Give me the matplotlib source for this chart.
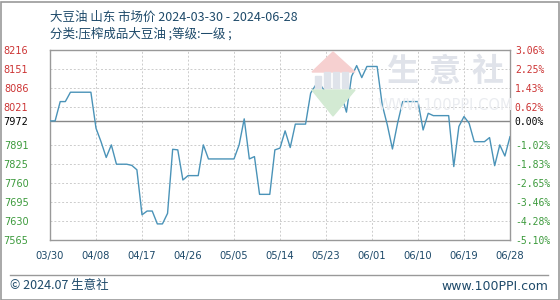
import matplotlib
matplotlib.use("Agg")
import matplotlib.pyplot as plt
from matplotlib.patches import Rectangle, Polygon
import pandas as pd

plt.rcParams['font.family'] = ['Noto Sans CJK SC', 'DejaVu Sans']

# data (one value per day, 03/30 .. 06/28)
dates = pd.date_range('2024-03-30', '2024-06-28', freq='D')
prices = [
    7972, 7972, 8038, 8038, 8070, 8070, 8070, 8070, 8070, 7947,
    7900, 7847, 7890, 7824, 7824, 7824, 7820, 7805, 7651, 7664,
    7664, 7620, 7620, 7656, 7875, 7873, 7770, 7785, 7785, 7785,
    7890, 7842, 7842, 7842, 7842, 7842, 7842, 7890, 7979, 7842,
    7850, 7721, 7721, 7721, 7873, 7879, 7938, 7881, 7961, 7961,
    7961, 8067, 8095, 8093, 8067, 8061, 8061, 8061, 8002, 8124,
    8161, 8120, 8158, 8158, 8158, 8027, 7958, 7876, 7964, 8038,
    8038, 8038, 8038, 7941, 7998, 7990, 7990, 7990, 7990, 7816,
    7953, 7987, 7964, 7901, 7901, 7901, 7915, 7819, 7890, 7852,
    7918,
]
base = 7972
yticks = [7565, 7630, 7695, 7760, 7825, 7891, 7972, 8021, 8086, 8151, 8216]
pct_labels = ['-5.10%', '-4.28%', '-3.46%', '-2.65%', '-1.83%', '-1.02%',
              '0.00%', '0.62%', '1.43%', '2.25%', '3.06%']
xtick_labels = ['03/30', '04/08', '04/17', '04/26', '05/05', '05/14',
                '05/23', '06/01', '06/10', '06/19', '06/28']

title1 = '大豆油 山东 市场价 2024-03-30 - 2024-06-28'
title2 = '分类:压榨成品大豆油 ;等级:一级 ;'

RED = '#cc3333'
GREEN = '#3c9a3c'
BLUE_TXT = '#1e4a6a'
LINE = '#4a93b8'


def tick_color(v):
    if v > base:
        return RED
    if v < base:
        return GREEN
    return 'black'


def fx(px):
    return px / 560


def fy(py):
    return 1 - py / 300


fig = plt.figure(figsize=(5.6, 3.0), dpi=100)
ax = fig.add_axes([fx(50), fy(240), 460 / 560, 190.5 / 300])

# watermark (logo + site name)
fig.patches.append(Polygon([[fx(312), fy(72)], [fx(333), fy(52)], [fx(355), fy(72)]],
                           closed=True, transform=fig.transFigure, color='#f6d0d0', zorder=0))
for bx, bh in [(315, 12), (324, 16), (333, 16), (342, 16)]:
    fig.patches.append(Rectangle((fx(bx), fy(88)), 6 / 560, bh / 300, transform=fig.transFigure,
                                 color='#dfe3ea', zorder=0))
fig.patches.append(Polygon([[fx(312), fy(90)], [fx(333), fy(116)], [fx(355), fy(90)]],
                           closed=True, transform=fig.transFigure, color='#d3ead3', zorder=0))
for cx, ch in zip([402, 445, 488], '生意社'):
    fig.text(fx(cx), fy(72), ch, fontsize=23, color='#e0e3ea', ha='center', va='center',
             fontweight='bold', zorder=0)
fig.text(fx(445), fy(106), 'WWW.100PPI.COM', fontsize=10.5, color='#eaecf0', ha='center',
         va='center', family='DejaVu Sans', zorder=0)
ax.set_facecolor('none')

ax.plot(dates, prices, color=LINE, lw=1.0, zorder=3)
ax.axhline(base, color='#888888', lw=1.0, zorder=2)

ax.set_ylim(yticks[0], yticks[-1])
ax.set_xlim(dates[0], dates[-1])
ax.set_yticks(yticks)
ax.set_yticklabels([str(v) for v in yticks], family='DejaVu Sans', fontsize=7)
for lab, v in zip(ax.get_yticklabels(), yticks):
    lab.set_color(tick_color(v))

ax.set_xticks(dates[::9])
ax.set_xticklabels(xtick_labels, family='DejaVu Sans', fontsize=7.2, color=BLUE_TXT)
ax.tick_params(axis='x', length=0, pad=8)
ax.tick_params(axis='y', length=0, pad=15.5)
ax.grid(True, color='#cccccc', ls=(0, (2, 2)), lw=0.7)
for s in ax.spines.values():
    s.set_color('#999999')
    s.set_linewidth(1.0)

ax2 = ax.twinx()
ax2.set_ylim(ax.get_ylim())
ax2.set_yticks(yticks)
ax2.set_yticklabels(pct_labels, family='DejaVu Sans Mono', fontsize=7)
for lab, v in zip(ax2.get_yticklabels(), yticks):
    lab.set_color(tick_color(v))
ax2.tick_params(axis='y', length=0, pad=3.5)
for s in ax2.spines.values():
    s.set_visible(False)

fig.text(fx(50), fy(17), title1, fontsize=9, color=BLUE_TXT, va='center')
fig.text(fx(50), fy(34), title2, fontsize=9, color=BLUE_TXT, va='center')

# footer
fig.add_artist(plt.Line2D([fx(10), fx(548)], [fy(275), fy(275)], color='#999999', lw=1.0))
fig.text(fx(10), fy(286), '© 2024.07 生意社', fontsize=9, color=BLUE_TXT, va='center')
fig.text(fx(548), fy(286), 'www.100PPI.com', fontsize=9, color=BLUE_TXT, va='center', ha='right',
         family='DejaVu Sans')

# outer frame
fig.patches.append(Rectangle((0.5 / 560, 0.5 / 300), 558 / 560, 298 / 300, transform=fig.transFigure,
                             fill=False, edgecolor='#999999', lw=1.2))

fig.savefig('out.png', dpi=100)
